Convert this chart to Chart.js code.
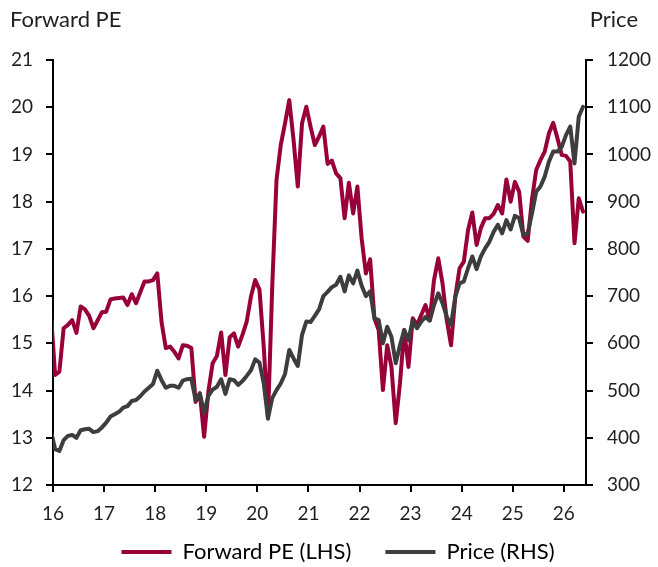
<!DOCTYPE html>
<html>
<head>
<meta charset="utf-8">
<script src="https://cdn.jsdelivr.net/npm/chart.js@4.4.1/dist/chart.umd.min.js"></script>
<style>
    html, body { margin: 0; padding: 0; background: #fff; }
</style>
</head>
<body>
<canvas id="peChart" width="658" height="567"></canvas>
<script>
// year ticks on the x axis (one every 12 months)
const yearLabels = ['16', '17', '18', '19', '20', '21', '22', '23', '24', '25', '26'];

// month-end readings, Dec 2015 .. May 2026
const forwardPE = [
    15.65, 14.33, 14.40, 15.32, 15.39, 15.49, 15.22, 15.78, 15.72, 15.58, 15.32, 15.49, 15.66,
    15.67, 15.93, 15.95, 15.96, 15.97, 15.81, 16.04, 15.85, 16.08, 16.31, 16.31, 16.34,
    16.48, 15.45, 14.90, 14.93, 14.82, 14.68, 14.96, 14.95, 14.90, 13.76, 13.94, 13.02,
    13.98, 14.58, 14.73, 15.23, 14.33, 15.13, 15.21, 14.93, 15.18, 15.46, 15.99, 16.34,
    16.14, 14.93, 13.41, 16.20, 18.46, 19.20, 19.66, 20.15, 19.31, 18.32, 19.66, 20.01,
    19.59, 19.20, 19.38, 19.59, 18.80, 18.87, 18.60, 18.50, 17.65, 18.40, 17.75, 18.32,
    17.22, 16.48, 16.78, 15.53, 15.28, 14.01, 14.96, 14.50, 13.31, 14.15, 15.28, 14.50,
    15.53, 15.39, 15.60, 15.81, 15.49, 16.34, 16.80, 16.27, 15.49, 14.96, 15.99, 16.59,
    16.73, 17.40, 17.77, 17.08, 17.44, 17.65, 17.65, 17.74, 17.93, 17.75, 18.47, 18.00,
    18.42, 18.21, 17.26, 17.17, 18.04, 18.67, 18.88, 19.06, 19.45, 19.67, 19.34, 18.99,
    18.97, 18.85, 17.12, 18.07, 17.79
];

const price = [
    415, 376, 372, 395, 404, 406, 400, 416, 418, 419, 412, 414, 422,
    432, 445, 450, 455, 464, 467, 478, 480, 488, 498, 506, 514,
    542, 522, 506, 510, 510, 506, 521, 524, 525, 480, 494, 453,
    489, 502, 508, 524, 493, 524, 522, 512, 520, 531, 543, 566,
    559, 515, 441, 484, 501, 515, 535, 586, 568, 552, 618, 646,
    645, 658, 672, 700, 709, 719, 724, 741, 710, 744, 727, 754,
    722, 700, 710, 653, 649, 600, 635, 614, 558, 596, 628, 607,
    649, 632, 646, 656, 648, 681, 706, 685, 656, 639, 699, 727,
    731, 759, 784, 757, 784, 801, 815, 836, 851, 833, 861, 841,
    870, 865, 829, 833, 875, 921, 932, 953, 985, 1006, 1006, 1016,
    1041, 1059, 981, 1080, 1101
];

const RED = '#99003a';
const GREY = '#3d3d3d';
const TEXT = '#1f1f1f';
const TICK_FONT = { family: 'Lato', size: 19 };
const LABEL_FONT = { family: 'Lato', size: 22 };

// points sit mid-month; the first one (Dec 2015) falls just left of the axis and gets clipped
const toXY = arr => arr.map((v, i) => ({ x: i - 0.5, y: v }));

// axis captions above the plot
const axisCaptions = {
    id: 'axisCaptions',
    afterDraw(chart) {
        const ctx = chart.ctx;
        ctx.save();
        ctx.font = '22px Lato';
        ctx.fillStyle = TEXT;
        ctx.textBaseline = 'middle';
        ctx.textAlign = 'left';
        ctx.fillText('Forward PE', 10, 20);
        ctx.textAlign = 'right';
        ctx.fillText('Price', 638, 20);
        ctx.restore();
    }
};

// legend sits tighter under the axis than Chart.js would put it
const legendNudge = {
    id: 'legendNudge',
    afterLayout(chart) {
        const lg = chart.legend;
        lg.top -= 18; lg.bottom -= 18;
        lg.left += 9; lg.right += 9;
    }
};

const axisGrid = {
    drawOnChartArea: false,
    drawTicks: true,
    tickLength: 7,
    color: '#000',
    lineWidth: 2
};

new Chart(document.getElementById('peChart'), {
    type: 'line',
    data: {
        datasets: [
            {
                label: 'Forward PE (LHS)',
                data: toXY(forwardPE),
                borderColor: RED,
                backgroundColor: RED,
                borderWidth: 4,
                pointRadius: 0,
                borderJoinStyle: 'round',
                borderCapStyle: 'round',
                clip: 0,
                order: 1,
                yAxisID: 'y'
            },
            {
                label: 'Price (RHS)',
                data: toXY(price),
                borderColor: GREY,
                backgroundColor: GREY,
                borderWidth: 4,
                pointRadius: 0,
                borderJoinStyle: 'round',
                borderCapStyle: 'round',
                clip: 0,
                order: 0,
                yAxisID: 'y1'
            }
        ]
    },
    options: {
        responsive: false,
        animation: false,
        layout: { padding: { top: 60, left: 0, right: 0, bottom: -24 } },
        scales: {
            x: {
                type: 'linear',
                min: 0,
                max: 125.2,
                afterBuildTicks: scale => {
                    scale.ticks = yearLabels.map((_, i) => ({ value: i * 12 }));
                },
                afterFit: scale => { scale.height = 40; },
                ticks: {
                    callback: (value, index) => yearLabels[index],
                    color: TEXT,
                    font: TICK_FONT,
                    padding: 10,
                    maxRotation: 0,
                    autoSkip: false
                },
                grid: axisGrid,
                border: { display: true, color: '#000', width: 2 }
            },
            y: {
                position: 'left',
                min: 12,
                max: 21,
                ticks: { stepSize: 1, color: TEXT, font: TICK_FONT, padding: 13, callback: v => String(v) },
                afterFit: scale => { scale.width = 53; },
                grid: axisGrid,
                border: { display: true, color: '#000', width: 2 }
            },
            y1: {
                position: 'right',
                min: 300,
                max: 1200,
                ticks: { stepSize: 100, color: TEXT, font: TICK_FONT, padding: 14, callback: v => String(v) },
                afterFit: scale => { scale.width = 72; },
                grid: axisGrid,
                border: { display: true, color: '#000', width: 2 }
            }
        },
        plugins: {
            legend: {
                position: 'bottom',
                labels: {
                    boxWidth: 50,
                    boxHeight: 4,
                    padding: 34,
                    color: TEXT,
                    font: LABEL_FONT,
                    generateLabels: chart => chart.data.datasets.map((ds, i) => ({
                        text: ds.label,
                        fillStyle: ds.borderColor,
                        strokeStyle: ds.borderColor,
                        lineWidth: 0,
                        hidden: false,
                        datasetIndex: i
                    }))
                }
            },
            tooltip: { enabled: false }
        }
    },
    plugins: [axisCaptions, legendNudge]
});
</script>
</body>
</html>
